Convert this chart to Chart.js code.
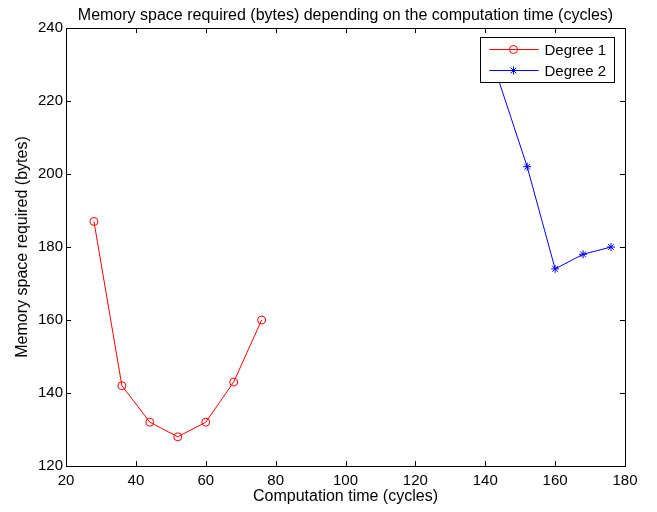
<!DOCTYPE html>
<html>
<head>
<meta charset="utf-8">
<script src="https://cdn.jsdelivr.net/npm/chart.js@4/dist/chart.umd.min.js"></script>
<style>
  html, body { margin: 0; padding: 0; background: #fff; }
  #wrap { width: 657px; height: 512px; }
</style>
</head>
<body>
<div id="wrap"><canvas id="chart" width="657" height="512"></canvas></div>
<script>
const deg1Time = [28, 36, 44, 52, 60, 68, 76];
const deg1Memory = [187, 142, 132, 128, 132, 143, 160];
const deg2Time = [142, 152, 160, 168, 176];
const deg2Memory = [231, 202, 174, 178, 180];
const seriesNames = ['Degree 1', 'Degree 2'];
const chartTitle = 'Memory space required (bytes) depending on the computation time (cycles)';

const FONT = 'Liberation Sans, Arial, Helvetica, sans-serif';

function toPoints(xs, ys) {
  return xs.map((x, i) => ({ x: x, y: ys[i] }));
}

// MATLAB style box with inward ticks on all four sides, title centred on the axes
const boxTicks = {
  id: 'boxTicks',
  afterDraw(chart) {
    const ctx = chart.ctx;
    const a = chart.chartArea;
    const xs = chart.scales.x, ys = chart.scales.y;
    ctx.save();
    ctx.strokeStyle = '#000';
    ctx.lineWidth = 1;
    ctx.strokeRect(Math.round(a.left) + 0.5, Math.round(a.top) + 0.5,
      Math.round(a.right - a.left), Math.round(a.bottom - a.top));
    const len = 5;
    ctx.beginPath();
    xs.ticks.forEach(t => {
      const px = Math.round(xs.getPixelForValue(t.value)) + 0.5;
      ctx.moveTo(px, a.bottom); ctx.lineTo(px, a.bottom - len);
      ctx.moveTo(px, a.top); ctx.lineTo(px, a.top + len);
    });
    ys.ticks.forEach(t => {
      const py = Math.round(ys.getPixelForValue(t.value)) + 0.5;
      ctx.moveTo(a.left, py); ctx.lineTo(a.left + len, py);
      ctx.moveTo(a.right, py); ctx.lineTo(a.right - len, py);
    });
    ctx.stroke();
    ctx.fillStyle = '#000';
    ctx.font = '16px ' + FONT;
    ctx.textAlign = 'center';
    ctx.textBaseline = 'alphabetic';
    ctx.fillText(chartTitle, (a.left + a.right) / 2, 20);
    ctx.restore();
  }
};

// legend box inside the plot, top right
const boxLegend = {
  id: 'boxLegend',
  afterDatasetsDraw(chart) {
    const ctx = chart.ctx;
    const a = chart.chartArea;
    const w = 134, h = 45;
    const x0 = Math.round(a.right - 11 - w) + 0.5, y0 = Math.round(a.top + 9) + 0.5;
    ctx.save();
    ctx.fillStyle = '#fff';
    ctx.fillRect(x0, y0, w, h);
    ctx.strokeStyle = '#000';
    ctx.lineWidth = 1;
    ctx.strokeRect(x0, y0, w, h);
    chart.data.datasets.forEach((ds, i) => {
      const cy = y0 + 12 + i * 21;
      ctx.strokeStyle = ds.borderColor;
      ctx.lineWidth = 1;
      ctx.beginPath();
      ctx.moveTo(x0 + 9, cy); ctx.lineTo(x0 + 58, cy);
      ctx.stroke();
      ctx.fillStyle = ds.pointBackgroundColor;
      ctx.strokeStyle = ds.pointBorderColor;
      Chart.helpers.drawPoint(ctx, {
        pointStyle: ds.pointStyle, radius: ds.pointRadius,
        borderWidth: 1, rotation: 0
      }, x0 + 33, cy);
      ctx.fillStyle = '#000';
      ctx.font = '15px ' + FONT;
      ctx.textBaseline = 'middle';
      ctx.textAlign = 'left';
      ctx.fillText(ds.label, x0 + 64, cy + 1);
    });
    ctx.restore();
  }
};

new Chart(document.getElementById('chart').getContext('2d'), {
  type: 'line',
  data: {
    datasets: [{
      label: seriesNames[0],
      data: toPoints(deg1Time, deg1Memory),
      borderColor: '#ff0000',
      backgroundColor: 'rgba(0,0,0,0)',
      borderWidth: 1,
      pointStyle: 'circle',
      pointRadius: 4,
      pointBorderColor: '#ff0000',
      pointBackgroundColor: 'rgba(0,0,0,0)',
      pointBorderWidth: 1,
      tension: 0,
      clip: 0
    }, {
      label: seriesNames[1],
      data: toPoints(deg2Time, deg2Memory),
      borderColor: '#0000ff',
      backgroundColor: 'rgba(0,0,0,0)',
      borderWidth: 1,
      pointStyle: 'star',
      pointRadius: 4,
      pointBorderColor: '#0000ff',
      pointBackgroundColor: '#0000ff',
      pointBorderWidth: 1,
      tension: 0,
      clip: 0
    }]
  },
  options: {
    responsive: false,
    animation: false,
    events: [],
    layout: { padding: { left: 0, right: 32, top: 28, bottom: 0 } },
    plugins: {
      legend: { display: false },
      tooltip: { enabled: false },
      title: { display: false }
    },
    scales: {
      x: {
        type: 'linear',
        min: 20, max: 180,
        ticks: { stepSize: 20, color: '#000', font: { family: FONT, size: 15 }, padding: 6, maxRotation: 0 },
        grid: { display: false, drawTicks: false },
        border: { display: false },
        title: { display: true, text: 'Computation time (cycles)', color: '#000',
          font: { family: FONT, size: 16 }, padding: { top: 0, bottom: 6 } },
        afterFit(scale) { scale.height = 46; }
      },
      y: {
        min: 120, max: 240,
        ticks: { stepSize: 20, color: '#000', font: { family: FONT, size: 15 }, padding: 3 },
        grid: { display: false, drawTicks: false },
        border: { display: false },
        title: { display: true, text: 'Memory space required (bytes)', color: '#000',
          font: { family: FONT, size: 16 }, padding: { top: 13, bottom: 0 } },
        afterFit(scale) { scale.width = 66; }
      }
    }
  },
  plugins: [boxTicks, boxLegend]
});
</script>
</body>
</html>
